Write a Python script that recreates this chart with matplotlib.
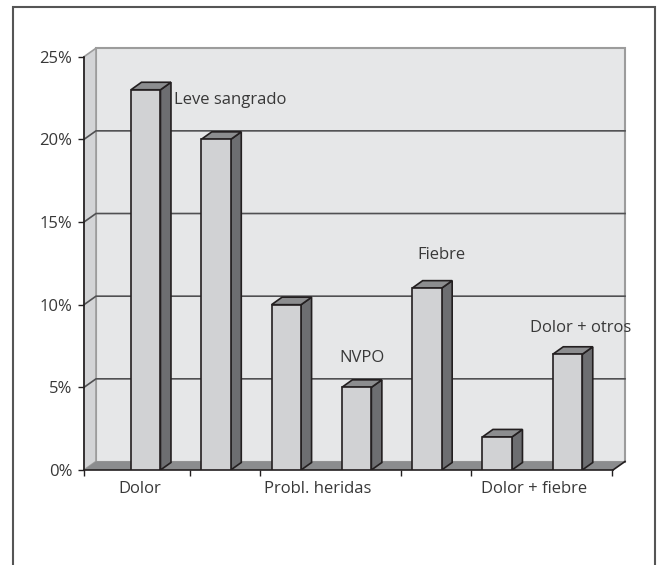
import numpy as np
import matplotlib.pyplot as plt
from matplotlib.patches import Polygon, Rectangle

plt.rcParams["font.family"] = ["Open Sans", "DejaVu Sans"]

# data
categories = ["Dolor", "Leve sangrado", "Probl. heridas", "NVPO",
              "Fiebre", "Dolor + fiebre", "Dolor + otros"]
values = [23, 20, 10, 5, 11, 2, 7]
yticks = [0, 5, 10, 15, 20, 25]
ytick_labels = ["0%", "5%", "10%", "15%", "20%", "25%"]
axis_labels = ["Dolor", "Probl. heridas", "Dolor + fiebre"]

# labels written inside the plot: (category index, dx, dy, alignment)
notes = [(1, -0.60, 2.4, "left"), (3, 0.07, 1.8, "center"),
         (4, 0.20, 2.0, "center"), (6, 0.18, 1.6, "center")]

# separators / label spots along the category axis
sep_ticks = [-0.878, 0.63, 1.63, 3.63, 4.63, 6.635]
label_ticks = [-0.08, 2.45, 5.52]

FS = 12
TXT = "#383838"

W, H = 659, 565
fig = plt.figure(figsize=(W / 100, H / 100), dpi=100)
x0, x1, y0, y1 = 84, 613, 470, 56.7
ax = fig.add_axes([x0 / W, 1 - y0 / H, (x1 - x0) / W, (y0 - y1) / H])
xmin, xmax = -0.878, 6.647
ax.set_xlim(xmin, xmax)
ax.set_ylim(0, 25)
ax.set_facecolor("none")

# pixel -> data scale for the fake depth
sx = (xmax - xmin) / (x1 - x0)
sy = 25 / (y0 - y1)
wdx, wdy = 12 * sx, 8.5 * sy      # walls
bdx, bdy = 10.5 * sx, 7.5 * sy    # bars
bw = 29.5 * sx

edge = "#231f20"

# back wall, side wall, floor
ax.add_patch(Rectangle((xmin + wdx, wdy), xmax - xmin, 25, facecolor="#e6e7e8",
                       edgecolor="#9c9c9c", lw=1.5, zorder=0, clip_on=False))
ax.add_patch(Polygon([(xmin, 0), (xmin + wdx, wdy), (xmin + wdx, 25 + wdy), (xmin, 25)],
                     closed=True, facecolor="#d3d4d6", edgecolor="#9c9c9c", lw=1.2,
                     zorder=0.5, clip_on=False))
ax.add_patch(Polygon([(xmin, 0), (xmax, 0), (xmax + wdx, wdy), (xmin + wdx, wdy)],
                     closed=True, facecolor="#8b8c8e", edgecolor="none",
                     zorder=1, clip_on=False))
ax.plot([xmax, xmax + wdx], [0, wdy], color=edge, lw=1.2, zorder=1.5, clip_on=False)

# gridlines running across side wall and back wall
for y in yticks[1:-1]:
    ax.plot([xmin, xmin + wdx, xmax + wdx], [y, y + wdy, y + wdy],
            color="#505052", lw=1.2, zorder=0.8, clip_on=False)

# bars: front face, side face, top face
x = np.arange(len(values))
ax.bar(x, values, width=bw, color="#d1d2d4", edgecolor=edge, lw=1.2, zorder=3)
for xi, v in zip(x, values):
    r = xi + bw / 2
    l = xi - bw / 2
    ax.add_patch(Polygon([(r, 0), (r + bdx, bdy), (r + bdx, v + bdy), (r, v)],
                         closed=True, facecolor="#6d6e71", edgecolor=edge, lw=1.2, zorder=2.9))
    ax.add_patch(Polygon([(l, v), (r, v), (r + bdx, v + bdy), (l + bdx, v + bdy)],
                         closed=True, facecolor="#8c8d8f", edgecolor=edge, lw=1.2, zorder=2.9))

# labels next to some bars
for idx, dx, dy, ha in notes:
    ax.text(x[idx] + dx, values[idx] + dy, categories[idx], ha=ha, va="center",
            fontsize=FS, color=TXT, zorder=4)

# axes styling
for s in ["top", "right"]:
    ax.spines[s].set_visible(False)
for s in ["left", "bottom"]:
    ax.spines[s].set_color(edge)
    ax.spines[s].set_linewidth(1.2)
    ax.spines[s].set_zorder(2)

ax.set_yticks(yticks)
ax.set_yticklabels(ytick_labels)
ax.tick_params(axis="y", direction="out", length=4.5, width=1, color=edge,
               labelsize=FS, labelcolor=TXT, pad=4)
ax.set_xticks(sep_ticks)
ax.set_xticklabels([""] * len(sep_ticks))
ax.tick_params(axis="x", which="major", direction="out", length=4.5, width=1, color=edge)
ax.set_xticks(label_ticks, minor=True)
ax.set_xticklabels(axis_labels, minor=True)
ax.tick_params(axis="x", which="minor", length=0, labelsize=FS,
               labelcolor=TXT, pad=8)

# outer frame
fig.add_artist(Rectangle((12.5 / W, -0.05), (654.5 - 12.5) / W, 1.05 - 7 / H,
                         transform=fig.transFigure, fill=False,
                         edgecolor="#555555", lw=1.5))

fig.savefig("out.png", dpi=100)
